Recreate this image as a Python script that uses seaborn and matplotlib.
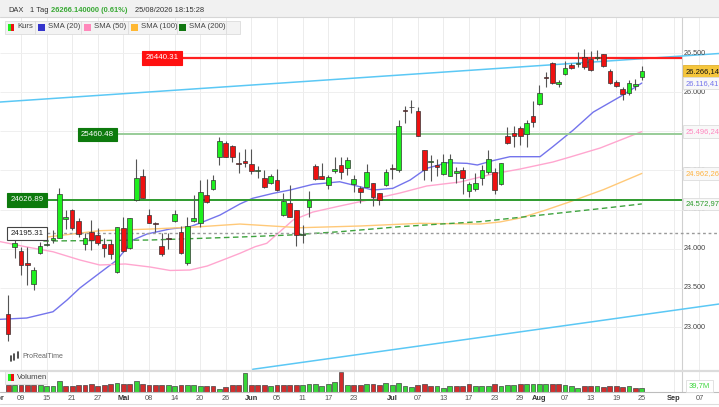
import matplotlib
matplotlib.use("Agg")
import matplotlib.pyplot as plt
import matplotlib.transforms as mtrans
from matplotlib.patches import Rectangle
from matplotlib.lines import Line2D
import numpy as np
import pandas as pd
import seaborn as sns

# ---------- DATA (DAX daily, 07.04. - 25.08.2026) ----------
opens = [23167, 24023, 23975, 23814, 23550, 23942, 24045, 24112, 24141, 24376,
         24495, 24358, 24061, 24210, 24176, 24057, 24061, 23700, 24261, 24006,
         24623, 24929, 24431, 24333, 24035, 24134, 24355, 24218, 23814, 24355,
         24325, 24687, 24759, 25168, 25347, 25312, 25092, 25121, 25079, 24990,
         24900, 24836, 24878, 24431, 24581, 24495, 24176, 24538, 25057, 24933,
         24810, 24989, 25066, 25029, 24827, 24776, 24793, 24836, 24708, 24814,
         25036, 25006, 25768, 25807, 25763, 25261, 25108, 25070, 24955, 24929,
         24964, 25012, 24742, 24759, 24908, 24985, 24985, 24823, 25444, 25482,
         25538, 25466, 25695, 25845, 26190, 26376, 26100, 26228, 26347, 26360,
         26453, 26420, 26440, 26483, 26274, 26134, 26036, 25985, 26079, 26190]
highs = [23409, 24125, 24023, 24027, 23771, 24090, 24134, 24240, 24780, 24495,
         24504, 24389, 24198, 24367, 24261, 24134, 24117, 24282, 24402, 24389,
         25143, 25015, 24508, 24346, 24198, 24198, 24495, 24295, 24410, 24687,
         24878, 24887, 24942, 25424, 25380, 25320, 25232, 25274, 25270, 25060,
         25006, 24955, 25015, 24708, 24814, 24500, 24304, 24742, 25083, 25100,
         24942, 25168, 25168, 25168, 24942, 24801, 25083, 24844, 24716, 25015,
         25083, 25644, 25823, 25900, 25807, 25265, 25197, 25150, 25210, 25210,
         25040, 25050, 24857, 24968, 25070, 25261, 25027, 25100, 25551, 25568,
         25568, 25644, 25883, 26091, 26254, 26390, 26155, 26402, 26368, 26513,
         26551, 26530, 26540, 26487, 26300, 26155, 26070, 26155, 26164, 26330]
lows = [22820, 23882, 23665, 23537, 23473, 23933, 24035, 24070, 24134, 24249,
        24240, 24154, 23984, 23984, 24048, 23899, 23865, 23690, 23962, 23997,
        24615, 24644, 24325, 24218, 23912, 23993, 24346, 23933, 23793, 24346,
        24282, 24581, 24750, 25070, 25168, 25112, 24964, 25048, 24950, 24900,
        24772, 24827, 24742, 24419, 24401, 24035, 24070, 24410, 24874, 24887,
        24759, 24970, 24887, 24942, 24729, 24589, 24784, 24546, 24564, 24801,
        24891, 24976, 25610, 25738, 25440, 24880, 24860, 24935, 24942, 24925,
        24844, 24705, 24659, 24742, 24814, 24955, 24699, 24810, 25338, 25304,
        25325, 25304, 25555, 25836, 26070, 26100, 26070, 26219, 26291, 26321,
        26291, 26270, 26415, 26325, 26100, 26062, 25900, 25964, 26027, 26160]
closes = [22911, 24074, 23793, 23789, 23729, 24035, 24055, 24141, 24696, 24410,
          24261, 24189, 24134, 24112, 24070, 24006, 23933, 24282, 23975, 24389,
          24908, 24644, 24333, 24320, 23933, 24125, 24440, 23942, 24295, 24389,
          24729, 24601, 24878, 25380, 25176, 25168, 25078, 25092, 24993, 25010,
          24785, 24929, 24750, 24614, 24410, 24176, 24189, 24623, 24887, 24895,
          24921, 25023, 24977, 25134, 24887, 24729, 24984, 24657, 24623, 24984,
          25023, 25568, 25755, 25814, 25444, 25006, 25121, 25048, 25104, 25142,
          24993, 24900, 24823, 24836, 25006, 25146, 24750, 25091, 25347, 25444,
          25444, 25602, 25623, 25985, 26177, 26113, 26126, 26312, 26312, 26376,
          26317, 26283, 26450, 26334, 26113, 26079, 25976, 26121, 26100, 26266.14]

# volume in millions, colour as shown (1 = green, 0 = red)
volumes = [67, 67, 67, 67, 67, 67, 58, 58, 104, 55,
           55, 67, 67, 77, 55, 67, 77, 83, 77, 77,
           104, 77, 67, 67, 67, 67, 55, 67, 67, 67,
           55, 55, 55, 31, 46, 67, 61, 175, 67, 67,
           67, 55, 61, 61, 67, 67, 67, 71, 71, 55,
           77, 95, 181, 67, 67, 67, 77, 71, 61, 86,
           61, 86, 55, 46, 61, 77, 55, 55, 40, 55,
           55, 55, 71, 52, 52, 55, 71, 55, 61, 61,
           71, 71, 71, 71, 71, 71, 71, 61, 52, 40,
           52, 52, 55, 46, 52, 52, 46, 52, 34, 39.7]
vol_up = [0, 1, 0, 0, 0, 1, 1, 1, 1, 0,
          0, 0, 0, 0, 0, 0, 0, 1, 0, 0,
          1, 0, 0, 0, 0, 1, 1, 0, 1, 1,
          1, 0, 0, 1, 0, 0, 0, 1, 0, 0,
          0, 1, 0, 0, 0, 0, 1, 1, 1, 1,
          1, 1, 0, 1, 0, 0, 1, 0, 0, 1,
          1, 1, 1, 1, 0, 0, 0, 1, 1, 1,
          0, 0, 0, 1, 1, 1, 0, 1, 1, 1,
          0, 1, 1, 1, 1, 0, 0, 1, 1, 1,
          0, 0, 1, 0, 0, 0, 0, 1, 0, 1]

# moving averages at candle positions
sma20_x = [-1.3, 2.9, 7.0, 9.2, 11.2, 14.3, 17.0, 19.5, 21.7, 25.3, 28.4, 30.0,
           33.1, 36.2, 38.2, 41.4, 44.0, 47.6, 51.8, 53.9, 57.0, 60.1, 62.8,
           65.4, 68.6, 71.7, 73.3, 75.7, 78.4, 83.1, 85.1, 88.3, 91.4, 95.6, 99.0]
sma20_y = [23099, 23116, 23196, 23346, 23499, 23691, 23857, 24112, 24189, 24253,
           24282, 24329, 24431, 24572, 24645, 24708, 24750, 24823, 24856, 24814,
           24750, 24772, 24878, 25028, 25099, 25091, 25070, 25125, 25176, 25176,
           25304, 25517, 25745, 25942, 26116.41]
sma50_x = [-1.3, 2.9, 7.0, 11.2, 14.3, 18.3, 22.2, 25.3, 28.4, 31.1, 34.2, 36.2,
           38.6, 40.4, 44.5, 47.6, 51.8, 57.0, 61.2, 65.4, 70.6, 75.7, 80.0,
           85.1, 87.8, 92.5, 99.0]
sma50_y = [24092, 24023, 23962, 23857, 23793, 23806, 23767, 23723, 23729, 23780,
           23878, 23942, 24027, 24070, 24367, 24469, 24546, 24636, 24712, 24802,
           24853, 24955, 25019, 25108, 25172, 25287, 25496.24]
sma100_x = [5.5, 14.3, 22.2, 30.0, 36.2, 45.6, 55.0, 64.3, 73.7, 76.8, 80.0,
            84.0, 87.8, 93.0, 99.0]
sma100_y = [24144, 24231, 24252, 24282, 24316, 24269, 24291, 24325, 24316, 24342,
            24393, 24495, 24601, 24755, 24962.26]
sma200_x = [5.5, 22.2, 36.2, 44.0, 51.8, 61.2, 67.5, 73.7, 84.7, 93.0, 99.0]
sma200_y = [24099, 24112, 24150, 24176, 24218, 24282, 24316, 24346, 24444, 24517,
            24572.97]

# trend channel lines (candle index, price)
trend_upper_x = [-1.3, 111.1]
trend_upper_y = [25874, 26494]
trend_lower_x = [38.2, 111.1]
trend_lower_y = [22461, 23295]

# horizontal levels
level_red = 26440.31
level_mid = 25460.48
level_low = 24626.89
level_gray = 24195.31

tick_pos = [-1.5, 2, 6, 10, 14, 18, 22, 26, 30, 34, 38, 42, 46, 50, 54, 60, 64,
            68, 72, 76, 80, 83, 87, 91, 95, 99, 104, 108]
tick_labels = ["Apr", "09", "15", "21", "27", "Mai", "08", "14", "20", "26",
               "Jun", "05", "11", "17", "23", "Jul", "07", "13", "17", "23", "29",
               "Aug", "07", "13", "19", "25", "Sep", "07"]
months = {"Apr", "Mai", "Jun", "Jul", "Aug", "Sep"}
grid_prices = [23000, 23500, 24000, 24500, 25000, 25500, 26000, 26500]
# 25.500 sits fully under the SMA(50) value box, so it is not written
price_ticks = [23000, 23500, 24000, 24500, 25000, 26000, 26500]

# ---------- STYLE ----------
sns.set_theme(style="white")
plt.rcParams["font.family"] = ["Liberation Sans", "DejaVu Sans"]

GREEN = "#1ef01e"
RED = "#ee1111"
C20, C50, C100, C200 = "#7474ec", "#ffa6cf", "#ffc978", "#3fa33f"
TREND = "#5bc8f5"

W, H = 719, 407
XLIM = (-1.28, 111.06)
YLIM = (22452, 26960)
AXIS_I = 105.28   # candle index of the price-axis border (x = 682 px)


def fy(y):
    return 1 - y / H


def de(v, nd=2):
    s = f"{v:,.{nd}f}"
    return s.replace(",", "X").replace(".", ",").replace("X", ".")


fig = plt.figure(figsize=(W / 100, H / 100), dpi=100)
ax = fig.add_axes([0, fy(370), 1, (370 - 17) / H])
axv = fig.add_axes([0, fy(392), 1, 22 / H])
for a in (ax, axv):
    a.set_axis_off()
    a.set_xlim(*XLIM)
    for t in tick_pos:
        a.axvline(t, color="#ececec", lw=0.7, zorder=0)
    a.axvline(AXIS_I, color="#d0d0d0", lw=0.8, zorder=0)
ax.set_ylim(*YLIM)
ax.hlines(grid_prices, XLIM[0], AXIS_I, color="#efefef", lw=0.7, zorder=0)

# ---------- CANDLES ----------
idx = np.arange(len(opens))
o, h, l, c = map(np.asarray, (opens, highs, lows, closes))
up = c >= o
ax.vlines(idx, l, h, color="#555555", lw=0.8, zorder=4)
ax.bar(idx, np.maximum(np.abs(c - o), 10), bottom=np.minimum(o, c), width=0.72,
       color=np.where(up, GREEN, RED), edgecolor="#333333", linewidth=0.5, zorder=5)

# ---------- MOVING AVERAGES ----------
sns.lineplot(x=sma20_x, y=sma20_y, ax=ax, color=C20, lw=1.0, zorder=3)
sns.lineplot(x=sma50_x, y=sma50_y, ax=ax, color=C50, lw=1.0, zorder=3)
sns.lineplot(x=sma100_x, y=sma100_y, ax=ax, color=C100, lw=1.0, zorder=3)
sns.lineplot(x=sma200_x, y=sma200_y, ax=ax, color=C200, lw=1.0,
             linestyle=(0, (4, 2.5)), zorder=3)

# ---------- TREND + LEVELS ----------
ax.plot(trend_upper_x, trend_upper_y, color=TREND, lw=1.1, zorder=3)
ax.plot(trend_lower_x, trend_lower_y, color=TREND, lw=1.1, zorder=3)
ax.hlines(level_red, 27.3, AXIS_I, color="#ff2020", lw=1.6, zorder=3)
ax.hlines(level_mid, 17.2, AXIS_I, color="#98cc98", lw=1.4, zorder=3)
ax.hlines(level_low, 6.2, AXIS_I, color="#2e9a2e", lw=1.4, zorder=3)
ax.hlines(level_gray, 6.1, XLIM[1], color="#9a9a9a", lw=1.0,
          linestyles=(0, (2, 2)), zorder=3)

bt = mtrans.blended_transform_factory(ax.transAxes, ax.transData)
for xp, lev, fc, ec, tc in [(162, level_red, "#ff1010", "#ff1010", "white"),
                            (97.5, level_mid, "#0d7a0d", "#0d7a0d", "white"),
                            (27, level_low, "#0d7a0d", "#0d7a0d", "white"),
                            (27, level_gray, "white", "#444444", "#222222")]:
    ax.text(xp / W, lev, f"{lev:.2f}", transform=bt, ha="center", va="center",
            fontsize=5.7, color=tc, zorder=12,
            bbox=dict(boxstyle="square,pad=0.42", fc=fc, ec=ec, lw=0.8))

# ---------- RIGHT PRICE AXIS ----------
for p in price_ticks:
    ax.text(684 / W, p, f"{p:,}".replace(",", "."), transform=bt, ha="left",
            va="center", fontsize=5.2, color="#444444", zorder=8)
ax.text(686 / W, closes[-1], de(closes[-1]), transform=bt, ha="left", va="center",
        fontsize=5.5, color="#111111", zorder=13,
        bbox=dict(boxstyle="square,pad=0.35", fc="#f5c63c", ec="#e2b232", lw=0.6))
for val, col in [(sma20_y[-1], C20), (sma50_y[-1], "#ff88c0"),
                 (sma100_y[-1], "#ffb340"), (sma200_y[-1], "#2a9a2a")]:
    ax.text(686 / W, val, de(val), transform=bt, ha="left", va="center",
            fontsize=5.5, color=col, zorder=13,
            bbox=dict(boxstyle="square,pad=0.35", fc="#f8f8f8", ec="#dddddd", lw=0.6))

# ---------- VOLUME ----------
vdf = pd.DataFrame({"i": idx, "vol": volumes,
                    "dir": ["up" if u else "down" for u in vol_up]})
sns.barplot(data=vdf, x="i", y="vol", hue="dir", palette={"up": GREEN, "down": RED},
            native_scale=True, dodge=False, width=0.75, errorbar=None,
            edgecolor="#444444", linewidth=0.5, legend=False, ax=axv)
axv.set_xlim(*XLIM)
axv.set_ylim(0, 202)
axv.set_axis_off()

# ---------- DATE AXIS ----------
dt = mtrans.blended_transform_factory(axv.transData, fig.transFigure)
for t, lab in zip(tick_pos, tick_labels):
    m = lab in months
    axv.text(t, fy(398.5), lab, transform=dt, ha="center", va="center",
             fontsize=5.3, color="#333333" if m else "#555555",
             fontweight="bold" if m else "normal")

# ---------- FRAME / HEADER ----------
def hline(y, color, lw):
    fig.add_artist(Line2D([0, 1], [fy(y), fy(y)], transform=fig.transFigure,
                          color=color, lw=lw))

fig.add_artist(Rectangle((0, fy(17)), 1, 17 / H, transform=fig.transFigure,
                         fc="#f1f1f1", ec="none"))
hline(17, "#d6d6d6", 0.8)
hline(370.5, "#dcdcdc", 1.6)
hline(392.3, "#bdbdbd", 0.8)
hline(404, "#dddddd", 0.8)

fig.text(8 / W, fy(10), "DAX", fontsize=5.4, color="#333333", va="center")
fig.text(30 / W, fy(10), "1 Tag", fontsize=5.4, color="#333333", va="center")
fig.text(51 / W, fy(10), "26266.140000 (0.61%)", fontsize=5.4, color="#39a935",
         fontweight="bold", va="center")
fig.text(135 / W, fy(10), "25/08/2026 18:15:28", fontsize=5.4, color="#333333",
         va="center")

# legend row
fig.add_artist(Rectangle((5 / W, fy(33.5)), 235 / W, 13 / H, transform=fig.transFigure,
                         fc="#f3f3f3", ec="#dcdcdc", lw=0.6))
for xs in [35, 81, 128, 177, 226]:
    fig.add_artist(Line2D([xs / W, xs / W], [fy(20.5), fy(33.5)],
                          transform=fig.transFigure, color="#dcdcdc", lw=0.6))
fig.add_artist(Rectangle((8 / W, fy(30.5)), 3 / W, 7 / H, transform=fig.transFigure,
                         fc=GREEN, ec="none"))
fig.add_artist(Rectangle((11 / W, fy(30.5)), 3 / W, 7 / H, transform=fig.transFigure,
                         fc=RED, ec="none"))
fig.text(17 / W, fy(27), "Kurs", fontsize=5.6, color="#444444", va="center")
for xs, col, lab in [(38, "#3535cc", "SMA (20)"), (84, "#ff88bb", "SMA (50)"),
                     (131, "#ffb833", "SMA (100)"), (179, "#117711", "SMA (200)")]:
    fig.add_artist(Rectangle((xs / W, fy(30.5)), 7 / W, 7 / H,
                             transform=fig.transFigure, fc=col, ec="none"))
    fig.text((xs + 10) / W, fy(27), lab, fontsize=5.6, color="#444444", va="center")

# volume legend
fig.add_artist(Rectangle((5 / W, fy(384)), 42 / W, 13 / H, transform=fig.transFigure,
                         fc="#f3f3f3", ec="#dcdcdc", lw=0.6))
fig.add_artist(Rectangle((8 / W, fy(381)), 3 / W, 7 / H, transform=fig.transFigure,
                         fc=GREEN, ec="none"))
fig.add_artist(Rectangle((11 / W, fy(381)), 3 / W, 7 / H, transform=fig.transFigure,
                         fc=RED, ec="none"))
fig.text(17 / W, fy(377.5), "Volumen", fontsize=5.6, color="#444444", va="center")
fig.text(689 / W, fy(386), de(volumes[-1], 1) + "M", fontsize=5.5, color="#3ed63e",
         va="center", bbox=dict(boxstyle="square,pad=0.35", fc="white",
                                ec="#dddddd", lw=0.6))

# watermark
for xs, y0, y1 in [(11, 361, 356), (14.5, 360, 354), (18, 358, 352)]:
    fig.add_artist(Line2D([xs / W, xs / W], [fy(y0), fy(y1)],
                          transform=fig.transFigure, color="#333333", lw=1.2))
fig.text(22 / W, fy(357), "ProRealTime", fontsize=5, color="#666666", va="center")

fig.savefig("out.png", dpi=100)
